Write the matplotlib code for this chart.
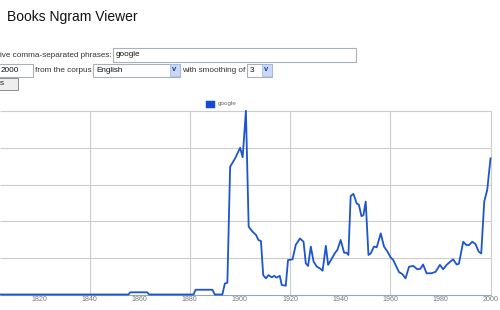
import matplotlib
matplotlib.use("Agg")
import matplotlib.pyplot as plt
from matplotlib.patches import Rectangle

# ---------------- data ----------------
years = [1804.3, 1855.5, 1856.3, 1863.0, 1863.8, 1881.5, 1882.3, 1889.0, 1890.0, 1893.0,
         1894.0, 1895.0, 1896.1, 1898.1, 1900.1, 1901.1, 1902.4, 1903.5, 1905.0, 1906.4,
         1907.4, 1908.4, 1909.3, 1910.4, 1911.4, 1912.7, 1913.7, 1914.6, 1915.9, 1916.7,
         1918.3, 1919.2, 1921.0, 1922.3, 1924.0, 1925.4, 1926.3, 1927.2, 1928.3, 1929.4,
         1930.7, 1932.0, 1933.0, 1934.3, 1935.2, 1936.5, 1937.8, 1938.9, 1940.2, 1941.6,
         1942.6, 1943.3, 1944.2, 1945.3, 1946.6, 1947.5, 1948.5, 1949.3, 1950.2, 1951.3,
         1952.2, 1953.5, 1954.6, 1956.2, 1957.5, 1958.9, 1960.2, 1961.2, 1963.5, 1964.8,
         1966.1, 1967.5, 1969.2, 1970.8, 1972.0, 1973.1, 1974.5, 1976.4, 1978.1, 1979.8,
         1981.1, 1982.5, 1984.0, 1985.1, 1986.5, 1987.4, 1989.1, 1990.4, 1991.4, 1992.7,
         1994.0, 1995.3, 1996.3, 1997.5, 1998.7, 2000.0]
google = [0.0, 0.0, 0.06, 0.06, 0.0, 0.0, 0.13, 0.13, 0.0, 0.0,
          0.30, 0.32, 3.49, 3.72, 4.01, 3.75, 5.02, 1.85, 1.72, 1.63,
          1.49, 1.46, 0.53, 0.44, 0.53, 0.47, 0.51, 0.46, 0.51, 0.26,
          0.24, 0.94, 0.96, 1.36, 1.53, 1.44, 0.85, 0.78, 1.31, 0.90,
          0.76, 0.71, 0.65, 1.33, 0.81, 0.96, 1.12, 1.22, 1.49, 1.14,
          1.14, 1.08, 2.69, 2.75, 2.49, 2.45, 2.14, 2.17, 2.54, 1.08,
          1.12, 1.31, 1.29, 1.67, 1.31, 1.17, 1.01, 0.94, 0.61, 0.56,
          0.44, 0.76, 0.78, 0.69, 0.70, 0.82, 0.58, 0.58, 0.62, 0.81,
          0.69, 0.81, 0.90, 0.96, 0.82, 0.84, 1.44, 1.35, 1.35, 1.44,
          1.38, 1.17, 1.12, 2.54, 2.86, 3.72]
tick_years = [1820, 1840, 1860, 1880, 1900, 1920, 1940, 1960, 1980, 2000]
grid_years = [1840, 1880, 1920, 1960, 2000]
grid_levels = [1, 2, 3, 4, 5]
series_name = "google"

# ---------------- figure ----------------
W, H = 500, 310
fig = plt.figure(figsize=(W / 100, H / 100), dpi=100)
fig.patch.set_facecolor("white")
plt.rcParams["font.family"] = ["Liberation Sans", "DejaVu Sans"]

def fx(x):
    return x / W

def fy(y):
    return 1 - y / H

def box(x0, y0, x1, y1, fc="white", ec="#a9b0b8", lw=0.8):
    fig.patches.append(Rectangle((fx(x0), fy(y1)), fx(x1 - x0), (y1 - y0) / H,
                                 transform=fig.transFigure, facecolor=fc,
                                 edgecolor=ec, linewidth=lw))

def txt(x, y, s, size=5.9, color="#222222", **kw):
    fig.text(fx(x), fy(y), s, fontsize=size, color=color, va="center", ha="left", **kw)

# header / form
txt(7, 17, "Books Ngram Viewer", size=10, color="#111111")
txt(0, 55, "ive comma-separated phrases:", color="#333333")
box(113, 48.5, 356, 61.5)
txt(116, 54.5, "google", color="#111111")
box(-2, 63.5, 33, 76.5)
txt(1, 70, "2000", color="#111111")
txt(35, 70, "from the corpus", color="#333333")
box(93, 63.5, 180, 76.5)
txt(96, 70, "English", color="#111111")
box(169.5, 64.5, 179.5, 75.5, fc="#c9d8f4", ec="#9fb5dd", lw=0.5)
txt(171.5, 69.5, "v", size=5.5, color="#1a3f9a", fontweight="bold")
txt(182, 70, "with smoothing of", color="#333333")
box(247, 63.5, 272, 76.5)
txt(250, 70, "3", color="#111111")
box(261.5, 64.5, 271.5, 75.5, fc="#c9d8f4", ec="#9fb5dd", lw=0.5)
txt(263.5, 69.5, "v", size=5.5, color="#1a3f9a", fontweight="bold")
box(-2, 77.5, 18, 90, fc="#eeeeee", ec="#8d8d8d", lw=0.7)
txt(0, 83.5, "s", color="#222222")

# legend
box(206, 100.5, 214.5, 107.5, fc="#1448d6", ec="#1448d6", lw=0.3)
txt(218, 104, series_name, size=4.5, color="#666666")

# ---------------- chart ----------------
top_px, bot_px, right_px = 111.5, 294.5, 490.5
ax = fig.add_axes([0, (H - bot_px) / H, right_px / W, (bot_px - top_px) / H])
ax.set_xlim(2000 - right_px / 2.506, 2000)
ax.set_ylim(0, 5)
for s in ax.spines.values():
    s.set_visible(False)
ax.set_facecolor("none")

ax.hlines(grid_levels, ax.get_xlim()[0], 2000, colors="#cccccc", linewidth=0.8, clip_on=False, zorder=1)
ax.vlines(grid_years, 0, 5, colors="#cccccc", linewidth=0.8, clip_on=False, zorder=1)
ax.hlines([0], ax.get_xlim()[0], 2000, colors="#8fa6c8", linewidth=0.8, clip_on=False, zorder=1)

ax.plot(years, google, color="#1d55cc", linewidth=1.3, clip_on=False, zorder=3,
        solid_joinstyle="round")

ax.set_yticks([])
ax.set_xticks(tick_years)
ax.set_xticklabels([str(y) for y in tick_years])
ax.tick_params(axis="x", length=0, pad=1.2, labelsize=5.1, labelcolor="#777777")

fig.savefig("out.png", dpi=100, facecolor="white")
